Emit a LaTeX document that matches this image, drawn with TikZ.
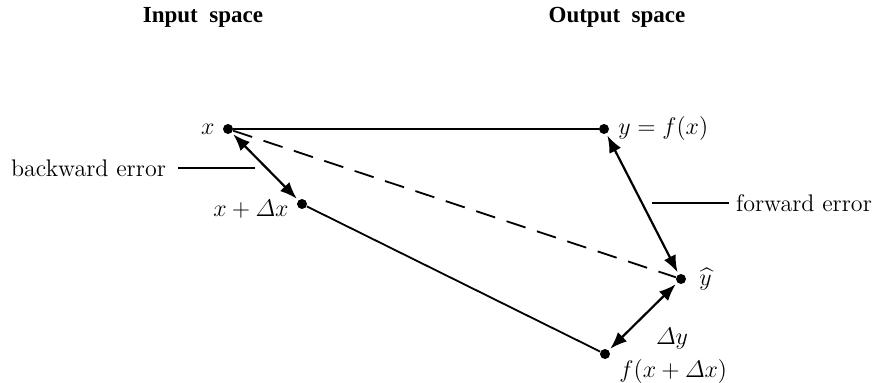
\documentclass[tikz,border=0pt]{standalone}
\usepackage{amsmath}
\usepackage{fontspec}
\newfontfamily\titlefont{Liberation Serif}
\usetikzlibrary{positioning,arrows.meta}

\begin{document}
\begin{tikzpicture}[
    x=0.5pt, y=-0.5pt,
    font=\large,
    dot/.style={circle, fill=black, inner sep=0pt, minimum size=5pt},
    spacetitle/.style={font=\titlefont\bfseries\fontsize{11.5}{13}\selectfont},
    edge/.style={line width=0.9pt},
    errarrow/.style={{Latex[length=8.5pt,width=6.5pt]}-{Latex[length=8.5pt,width=6.5pt]}, line width=1.1pt, shorten <=1pt, shorten >=1pt},
    dashedge/.style={edge, dash pattern=on 10pt off 6pt}
  ]
    \useasboundingbox (0,0) rectangle (882,383);

    % Titles
    \node[spacetitle] (intitle) at (203,17) {Input\ \ space};
    \node[spacetitle] (outtitle) at (617,17) {Output\ \ space};

    % Points
    \node[dot] (x) at (228,129) {};
    \node[dot] (y) at (604,129) {};
    \node[dot] (xd) at (302,204) {};
    \node[dot] (yhat) at (681,279) {};
    \node[dot] (fxd) at (605,354) {};

    % Point labels
    \node[left=0.5pt of x] (xlab) {$x$};
    \node[right=1pt of y] (ylab) {$y = f(x)$};
    \node[left=0.5pt of xd, yshift=-2.5pt] (xdlab) {$x + \varDelta x$};
    \node[right=3pt of yhat] (yhatlab) {$\widehat{y}$};
    \node[anchor=west] (fxdlab) at ([xshift=1pt, yshift=-9pt]fxd.east) {$f(x + \varDelta x)$};
    \node (dylab) at (672,339) {$\varDelta y$};

    % Error labels
    \node[anchor=east] (bwd) at (173,168) {backward error};
    \coordinate (bwdend) at (255,168);
    \node[anchor=west] (fwd) at (729,203) {forward error};
    \coordinate (fwdend) at (652,203);

    % Connections
    \draw[edge] (x) -- (y);
    \draw[edge] (xd) -- (fxd);
    \draw[dashedge] (x) -- (yhat);
    \draw[errarrow] (x) -- (xd);
    \draw[errarrow] (y) -- (yhat);
    \draw[errarrow] (yhat) -- (fxd);
    \draw[edge, shorten <=2.5pt] (bwd.east) -- (bwdend);
    \draw[edge] (fwdend) -- (fwd.west);
\end{tikzpicture}
\end{document}
